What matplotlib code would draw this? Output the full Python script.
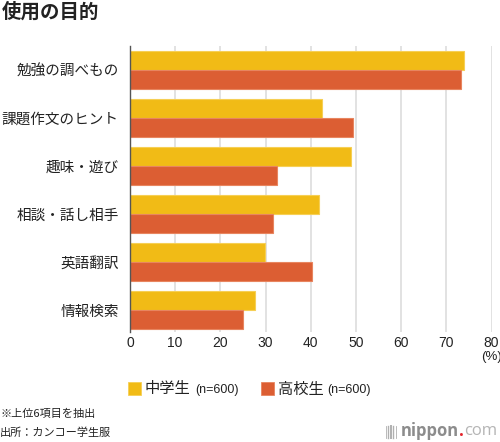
import matplotlib
matplotlib.use("Agg")
import matplotlib.pyplot as plt
from matplotlib.patches import Rectangle
import numpy as np

plt.rcParams['font.family'] = ['Noto Sans CJK JP', 'DejaVu Sans']

# data
categories = ["勉強の調べもの", "課題作文のヒント", "趣味・遊び", "相談・話し相手", "英語翻訳", "情報検索"]
junior_high = [74.0, 42.4, 48.9, 41.8, 29.9, 27.6]
senior_high = [73.2, 49.3, 32.6, 31.7, 40.3, 25.1]
series_names = ["中学生", "高校生"]
series_n = ["(n=600)", "(n=600)"]
xticks = [0, 10, 20, 30, 40, 50, 60, 70, 80]

yellow = "#F1BB16"
red = "#DC5E33"
colors = [yellow, red]
edges = ["#F6CF55", "#E8855F"]

fig = plt.figure(figsize=(5, 4.42), dpi=100)
ax = fig.add_axes([130 / 500, 1 - 332 / 442, (491.5 - 130) / 500, (332 - 46) / 442])

y = np.arange(len(categories))
h = 0.4
ax.barh(y - h / 2, junior_high, height=h, color=yellow, edgecolor=edges[0], linewidth=0.8, zorder=3)
ax.barh(y + h / 2, senior_high, height=h, color=red, edgecolor=edges[1], linewidth=0.8, zorder=3)

ax.set_xlim(0, 80)
ax.set_ylim(5.46, -0.5)
ax.set_yticks(y)
ax.set_yticklabels(categories, fontsize=10.5, color="#222222")
ax.set_xticks(xticks)
ax.set_xticklabels([str(t) for t in xticks], fontsize=10, color="#222222",
                   family=["Liberation Sans", "DejaVu Sans"])
ax.tick_params(axis="y", length=0, pad=8)
ax.tick_params(axis="x", length=0, pad=3)
ax.grid(axis="x", color="#DDDDDD", linewidth=1.2, zorder=0)
for s in ["top", "right", "bottom"]:
    ax.spines[s].set_visible(False)
ax.spines["left"].set_color("#555555")
ax.spines["left"].set_linewidth(1.0)
ax.spines["left"].set_zorder(4)

fig.text(491 / 500, 1 - 357 / 442, "(%)", ha="center", va="center", fontsize=9.5,
         color="#222222", family=["Liberation Sans", "DejaVu Sans"])

# title
fig.text(2 / 500, 1 - 12 / 442, "使用の目的", ha="left", va="center", fontsize=14,
         fontweight="bold", color="#222222")

# legend
leg_x = [128, 261]
for i in range(2):
    fig.patches.append(Rectangle((leg_x[i] / 500, 1 - 395 / 442), 13 / 500, 13 / 442,
                                 transform=fig.transFigure, facecolor=colors[i],
                                 edgecolor=edges[i], linewidth=0.6))
    t = fig.text((leg_x[i] + 17) / 500, 1 - 389 / 442, series_names[i], ha="left",
                 va="center", fontsize=11, color="#222222")
    fig.canvas.draw()
    bb = t.get_window_extent()
    fig.text(bb.x1 / 500 + 4 / 500, 1 - 389.5 / 442, series_n[i], ha="left", va="center",
             fontsize=9, color="#222222", family=["Liberation Sans", "DejaVu Sans"])

# notes
fig.text(0, 1 - 414 / 442, "※上位6項目を抽出", ha="left", va="center", fontsize=8, color="#222222")
fig.text(0, 1 - 433 / 442, "出所：カンコー学生服", ha="left", va="center", fontsize=8, color="#222222")

# logo
for k, lw in enumerate([0.6, 1.0, 1.4, 1.0, 0.6]):
    xx = (386 + k * 2.4) / 500
    fig.lines.append(plt.Line2D([xx, xx], [1 - 438 / 442, 1 - 426 / 442], transform=fig.transFigure,
                                color="#B0B0B0", linewidth=lw))
t1 = fig.text(401 / 500, 1 - 431 / 442, "nippon", ha="left", va="center", fontsize=12,
              color="#8C8C8C", family=["Open Sans", "DejaVu Sans"], fontweight="bold")
fig.canvas.draw()
bb = t1.get_window_extent()
t2 = fig.text(bb.x1 / 500, 1 - 431 / 442, ".", ha="left", va="center", fontsize=12,
              color="#E4242B", family=["Open Sans", "DejaVu Sans"], fontweight="bold")
fig.canvas.draw()
bb = t2.get_window_extent()
fig.text(bb.x1 / 500, 1 - 431 / 442, "com", ha="left", va="center", fontsize=12,
         color="#B5B5B5", family=["Open Sans", "DejaVu Sans"])

fig.savefig("out.png", dpi=100, facecolor="white")
